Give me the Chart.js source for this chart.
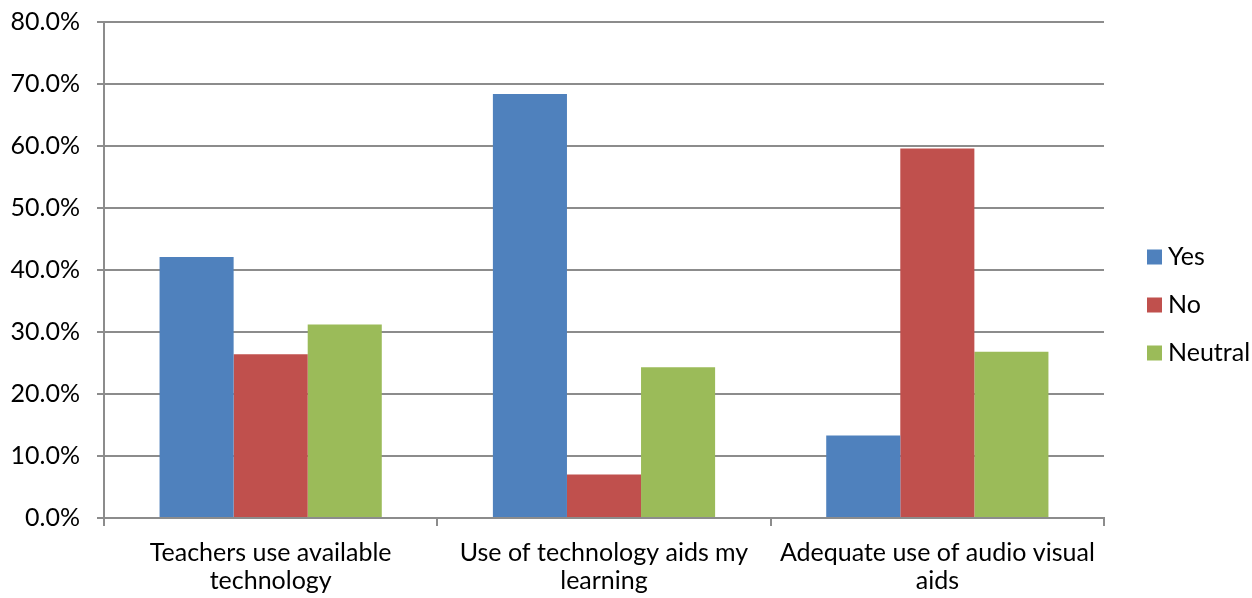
<!DOCTYPE html>
<html>
<head>
<meta charset="utf-8">
<script src="https://cdn.jsdelivr.net/npm/chart.js@4"></script>
<style>
	html, body { margin: 0; padding: 0; background: #ffffff; }
	#wrap { width: 1252px; height: 598px; }
</style>
</head>
<body>
<div id="wrap"><canvas id="tech-chart" width="1252" height="598"></canvas></div>
<script>
const categories = [
	["Teachers use available", "technology"],
	["Use of technology aids my", "learning"],
	["Adequate use of audio visual", "aids"],
];
const yesValues = [0.421, 0.684, 0.133];
const noValues = [0.264, 0.070, 0.596];
const neutralValues = [0.312, 0.243, 0.268];
const yTicks = [0, 0.1, 0.2, 0.3, 0.4, 0.5, 0.6, 0.7, 0.8];

const FONT = "Lato, 'Open Sans', sans-serif";
const GRID = "#8c8c8c";

// legend drawn to the right of the plot, stacked squares + labels
const sideLegend = {
	id: "sideLegend",
	afterDraw(chart) {
		const ctx = chart.ctx;
		const x = chart.chartArea.right + 43;
		const rowGap = 48;
		const sets = chart.data.datasets;
		const firstY = chart.height / 2 + 6 - rowGap * (sets.length - 1) / 2;
		ctx.save();
		ctx.font = "25px " + FONT;
		ctx.textBaseline = "middle";
		ctx.textAlign = "left";
		sets.forEach((ds, i) => {
			const cy = firstY + i * rowGap;
			ctx.fillStyle = ds.backgroundColor;
			ctx.fillRect(x, cy - 7.5, 15, 15);
			ctx.fillStyle = "#000000";
			ctx.fillText(ds.label, x + 21, cy);
		});
		ctx.restore();
	},
};

new Chart(document.getElementById("tech-chart"), {
	type: "bar",
	data: {
		labels: categories,
		datasets: [
			{ label: "Yes", data: yesValues, backgroundColor: "#4f81bd" },
			{ label: "No", data: noValues, backgroundColor: "#c0504d" },
			{ label: "Neutral", data: neutralValues, backgroundColor: "#9bbb59" },
		],
	},
	options: {
		responsive: false,
		animation: false,
		layout: { padding: { top: 22, right: 148, left: 0, bottom: 0 } },
		datasets: {
			bar: { categoryPercentage: 2 / 3, barPercentage: 1 },
		},
		plugins: {
			legend: { display: false },
			tooltip: { enabled: false },
		},
		scales: {
			x: {
				offset: true,
				grid: {
					offset: true,
					drawOnChartArea: false,
					drawTicks: true,
					tickLength: 8,
					color: GRID,
					lineWidth: 2,
				},
				border: { display: true, color: GRID, width: 2 },
				ticks: {
					color: "#000000",
					font: { family: FONT, size: 25, lineHeight: 1.12 },
					padding: 13,
					maxRotation: 0,
					autoSkip: false,
				},
				afterFit(scale) {
					scale.height = 80;
					scale.paddingTop = 0;
				},
			},
			y: {
				min: 0,
				max: 0.8,
				afterBuildTicks(scale) {
					scale.ticks = yTicks.map((v) => ({ value: v }));
				},
				grid: {
					color: GRID,
					lineWidth: 2,
					drawTicks: true,
					tickLength: 7,
				},
				border: { display: true, color: GRID, width: 2 },
				ticks: {
					color: "#000000",
					font: { family: FONT, size: 25 },
					padding: 17,
					callback: (v) => (v * 100).toFixed(1) + "%",
				},
				afterFit(scale) {
					scale.width = 104;
					scale.paddingTop = 0;
					scale.paddingBottom = 0;
				},
			},
		},
	},
	plugins: [sideLegend],
});
</script>
</body>
</html>
